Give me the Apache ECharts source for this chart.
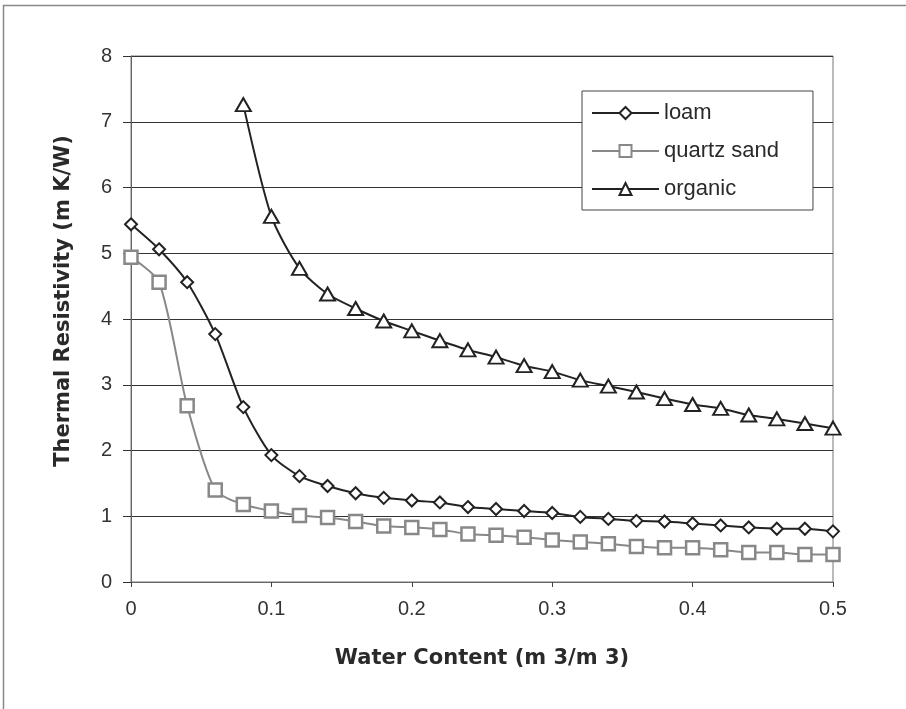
<!DOCTYPE html>
<html>
<head>
<meta charset="utf-8">
<script src="https://cdn.jsdelivr.net/npm/echarts@6/dist/echarts.min.js"></script>
<style>html,body{margin:0;padding:0;background:#fff}#c{width:906px;height:709px}</style>
</head>
<body>
<div id="c"></div>
<script>
var xValues = [0,0.02,0.04,0.06,0.08,0.10,0.12,0.14,0.16,0.18,0.20,0.22,0.24,0.26,0.28,0.30,0.32,0.34,0.36,0.38,0.40,0.42,0.44,0.46,0.48,0.50];
var loam = [5.44,5.06,4.56,3.77,2.66,1.93,1.61,1.46,1.35,1.28,1.24,1.21,1.14,1.11,1.08,1.05,0.99,0.96,0.93,0.92,0.89,0.86,0.83,0.81,0.81,0.77];
var quartzSand = [4.94,4.56,2.68,1.40,1.18,1.08,1.01,0.98,0.92,0.85,0.83,0.80,0.73,0.71,0.68,0.64,0.61,0.58,0.54,0.52,0.52,0.49,0.45,0.45,0.42,0.42];
var organic = [null,null,null,null,7.26,5.56,4.77,4.38,4.16,3.97,3.82,3.67,3.53,3.42,3.29,3.20,3.07,2.98,2.89,2.79,2.70,2.64,2.54,2.48,2.41,2.34];
var yTicks = [0,1,2,3,4,5,6,7,8];
var xTicks = [0,0.1,0.2,0.3,0.4,0.5];

function pairs(ys){
  var out=[];
  for(var i=0;i<xValues.length;i++){ if(ys[i]!==null) out.push([xValues[i],ys[i]]); }
  return out;
}

var chart = echarts.init(document.getElementById('c'));
chart.setOption({
  backgroundColor:'#fff',
  animation:false,
  graphic:[{type:'rect',shape:{x:3.5,y:5.5,width:920,height:720},style:{fill:null,stroke:'#888',lineWidth:1.5},silent:true}],
  grid:{left:131,right:73,top:56,bottom:127,show:true,borderColor:'#777',borderWidth:1},
  legend:{
    left:582, top:91, orient:'vertical',
    backgroundColor:'#fff',
    borderColor:'#444', borderWidth:1, padding:[11,34,10,9],
    itemGap:16, itemWidth:67, itemHeight:15,
    textStyle:{fontFamily:'Liberation Sans',fontSize:22,color:'#2a2a2a'},
    data:['loam','quartz sand','organic']
  },
  xAxis:{
    type:'value', min:xTicks[0], max:xTicks[xTicks.length-1], interval:0.1,
    axisLine:{lineStyle:{color:'#666',width:1}},
    axisTick:{show:true,length:5,lineStyle:{color:'#444'}},
    splitLine:{show:false},
    axisLabel:{fontFamily:'Liberation Sans',fontSize:20,color:'#333',margin:17},
    name:'Water Content (m 3/m 3)', nameLocation:'middle', nameGap:66,
    nameTextStyle:{fontFamily:'DejaVu Sans',fontWeight:'bold',fontSize:21,color:'#2a2a2a'}
  },
  yAxis:{
    type:'value', min:yTicks[0], max:yTicks[yTicks.length-1], interval:1,
    axisLine:{show:true,lineStyle:{color:'#666',width:1}},
    axisTick:{show:true,length:8,lineStyle:{color:'#333'}},
    splitLine:{show:true,lineStyle:{color:'#333',width:1}},
    axisLabel:{fontFamily:'Liberation Sans',fontSize:20,color:'#333',margin:19},
    name:'Thermal Resistivity (m K/W)', nameLocation:'middle', nameGap:57,
    nameTextStyle:{fontFamily:'DejaVu Sans',fontWeight:'bold',fontSize:21,color:'#2a2a2a',padding:[0,0,0,36]}
  },
  series:[
    {name:'loam',type:'line',data:pairs(loam),smooth:0.25,symbol:'diamond',symbolSize:[12,12],
     lineStyle:{color:'#222',width:2},itemStyle:{color:'#fff',borderColor:'#222',borderWidth:2},z:3},
    {name:'quartz sand',type:'line',data:pairs(quartzSand),smooth:0.25,symbol:'rect',symbolSize:13,
     lineStyle:{color:'#888',width:2},itemStyle:{color:'#fff',borderColor:'#888',borderWidth:2.5},z:2},
    {name:'organic',type:'line',data:pairs(organic),smooth:0.25,symbol:'triangle',symbolSize:[15,13],
     lineStyle:{color:'#222',width:2},itemStyle:{color:'#fff',borderColor:'#222',borderWidth:2},z:4}
  ]
});
</script>
</body>
</html>
